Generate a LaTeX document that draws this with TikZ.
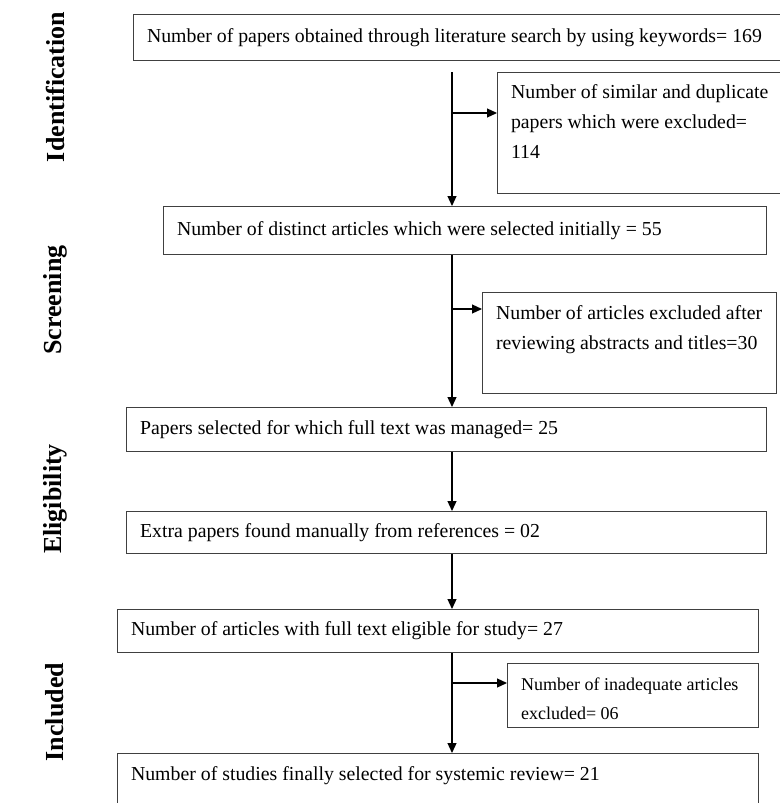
\documentclass[tikz,border=0pt]{standalone}
\usepackage{fontspec}
\setmainfont{Liberation Serif}
\usepackage{tikz}
\usetikzlibrary{arrows.meta,positioning,calc}

\tikzset{
  box/.style={draw=black!75,line width=1.1pt,anchor=north west,inner xsep=13.5pt,
    inner ysep=0pt,align=flush left,font=\fontsize{19.8}{30}\selectfont},
  exbox/.style={box,inner ysep=12.5pt,text depth=#1},
  stage/.style={rotate=90,font=\fontsize{26}{30}\selectfont\bfseries},
  arr/.style={line width=1.2pt,-{Triangle[length=10pt,width=9pt]}}
}

\begin{document}
\begin{tikzpicture}[x=1pt,y=-1pt]
  \useasboundingbox (0,0) rectangle (779,803);
  % stages on the left
  \node[stage] (ident) at (55,87) {Identification};
  \node[stage] (screen) at (55,300) {Screening};
  \node[stage] (elig) at (55,499) {Eligibility};
  \node[stage] (incl) at (55,712) {Included};
  % main boxes
  \node[box,text width=633pt,minimum height=46pt] (search) at (133,14)
  {Number of papers obtained through literature search by using keywords= 169};
  \node[box,text width=576pt,minimum height=48pt] (distinct) at (163,206)
  {Number of distinct articles which were selected initially = 55};
  \node[box,text width=613pt,minimum height=44pt] (fulltext) at (126,407)
  {Papers selected for which full text was managed= 25};
  \node[box,text width=613pt,minimum height=42pt] (extra) at (126,511)
  {Extra papers found manually from references = 02};
  \node[box,text width=614pt,minimum height=43pt] (eligible) at (117,609)
  {Number of articles with full text eligible for study= 27};
  \node[exbox=40pt,text width=614pt] (final) at (117,753)
  {Number of studies finally selected for systemic review= 21};
  % excluded boxes
  \node[exbox=83pt,text width=275pt,inner ysep=12pt] (dup) at (497,72)
  {Number of similar and duplicate\\papers which were excluded=\\114};
  \node[exbox=61pt,text width=267pt,inner ysep=13pt] (abstr) at (482,292)
  {Number of articles excluded after\\reviewing abstracts and titles=30};
  \node[exbox=22pt,text width=224pt,inner ysep=14.7pt,
    font=\fontsize{18}{29}\selectfont] (inadeq) at (507,663)
  {Number of inadequate articles\\excluded= 06};
  % trunk
  \coordinate (top) at (452,72);
  \draw[arr] (top) -- (top |- distinct.north);
  \draw[arr] (distinct.south -| top) -- (top |- fulltext.north);
  \draw[arr] (fulltext.south -| top) -- (top |- extra.north);
  \draw[arr] (extra.south -| top) -- (top |- eligible.north);
  \draw[arr] (eligible.south -| top) -- (top |- final.north);
  % branches
  \coordinate (b1) at (452,113);
  \coordinate (b2) at (452,309);
  \coordinate (b3) at (452,683);
  \draw[arr] (b1) -- (b1 -| dup.west);
  \draw[arr] (b2) -- (b2 -| abstr.west);
  \draw[arr] (b3) -- (b3 -| inadeq.west);
\end{tikzpicture}
\end{document}
